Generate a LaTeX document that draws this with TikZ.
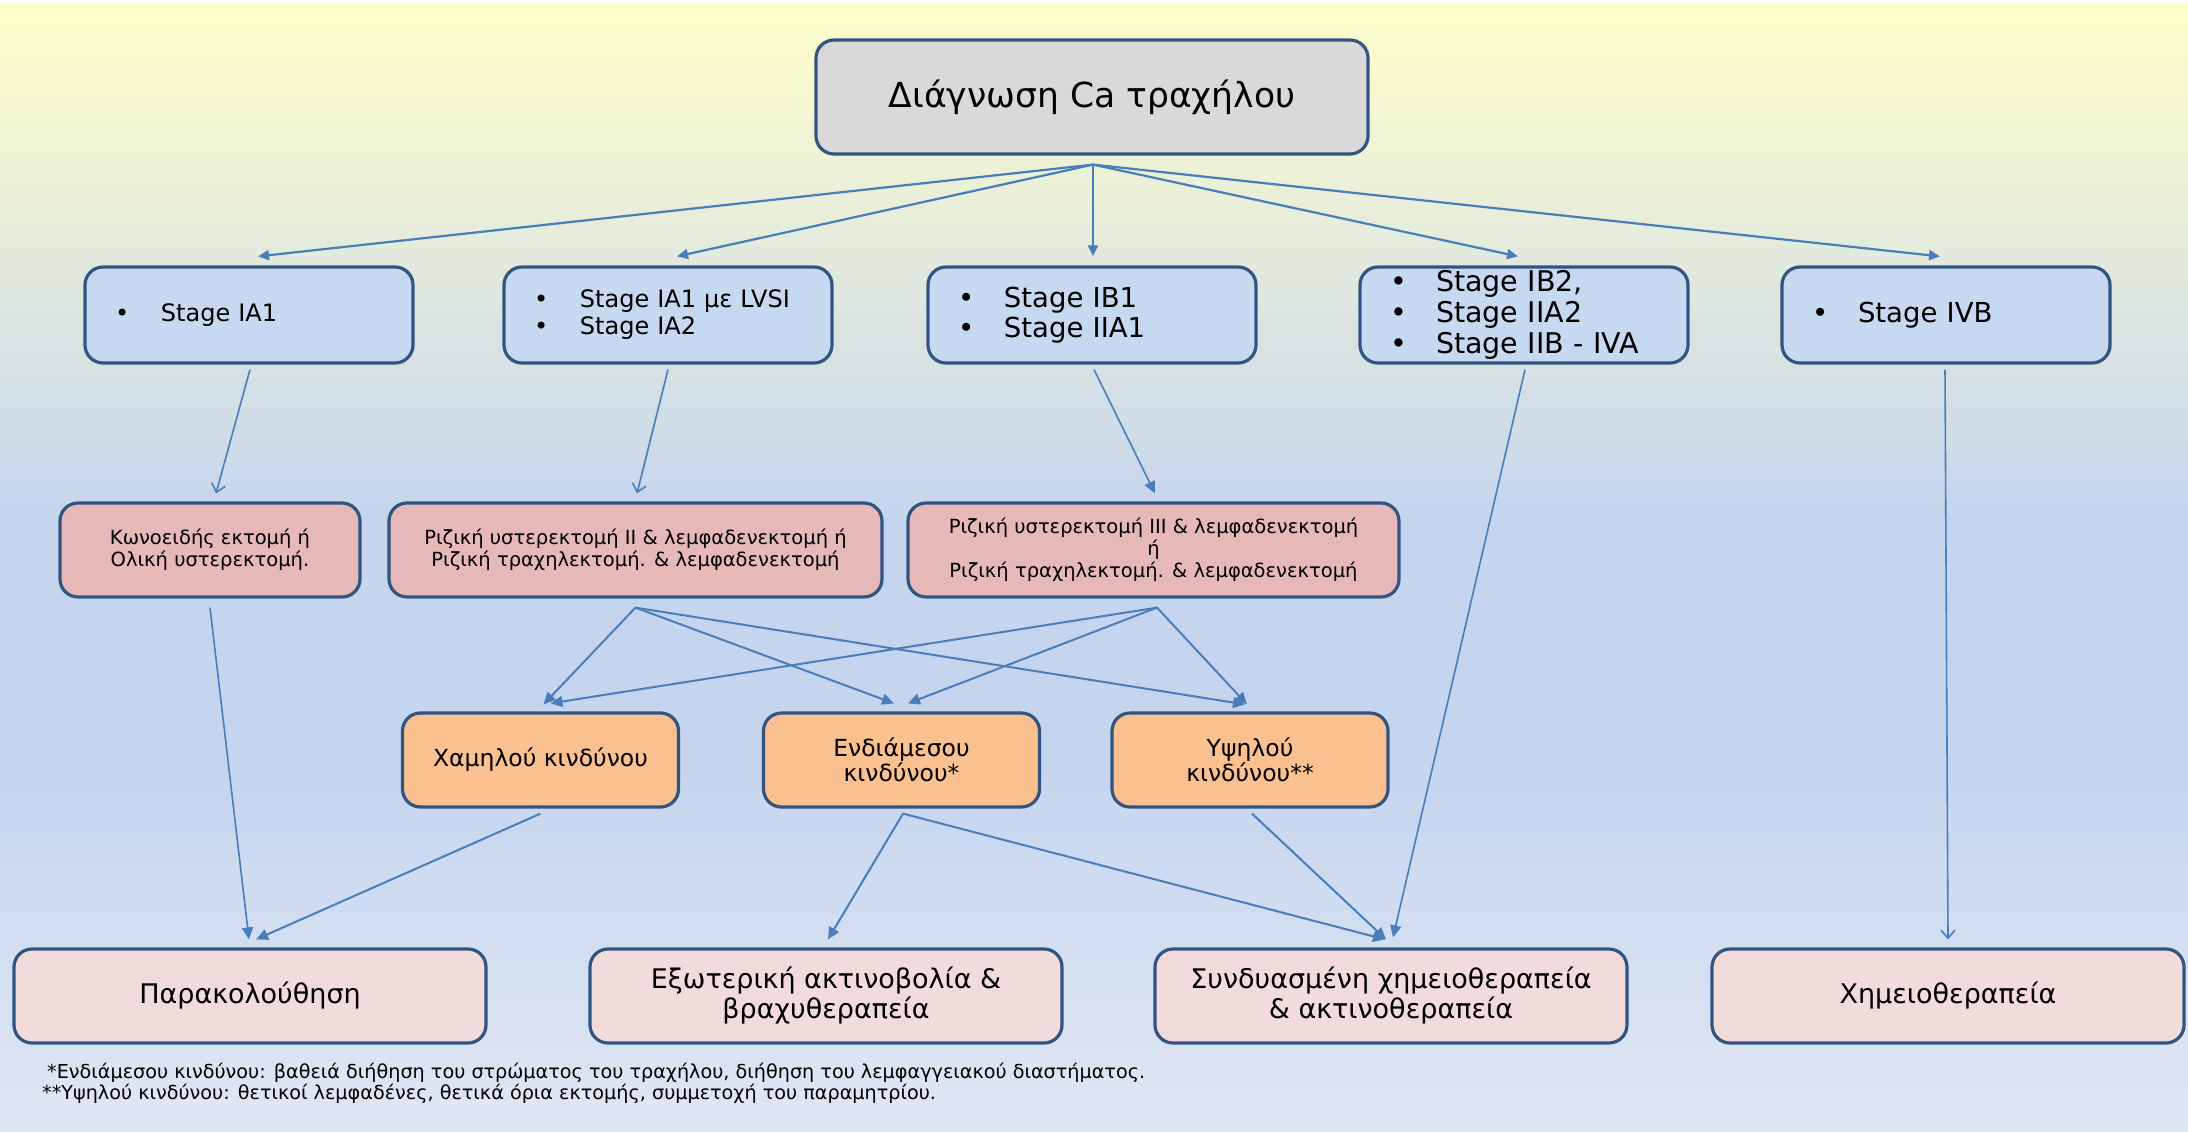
\documentclass[tikz,border=0pt]{standalone}
\usepackage{fontspec}
\setmainfont{DejaVu Sans}
\usetikzlibrary{arrows.meta,calc}

% palette
\definecolor{bgtop}{RGB}{255,255,204}
\definecolor{bgmid}{RGB}{197,213,238}
\definecolor{bgbot}{RGB}{225,231,245}
\definecolor{edge}{RGB}{50,84,128}
\definecolor{link}{RGB}{74,126,187}
\definecolor{grayfill}{RGB}{217,217,217}
\definecolor{stagefill}{RGB}{198,217,241}
\definecolor{surgfill}{RGB}{230,185,184}
\definecolor{riskfill}{RGB}{250,192,144}
\definecolor{therfill}{RGB}{242,220,219}

\newcommand{\fs}[2]{\fontsize{#1}{#2}\selectfont}
\newcommand{\bul}{\makebox[46pt][l]{•}}

\begin{document}
\begin{tikzpicture}[x=1pt,y=-1pt,
  box/.style={draw=edge, line width=3.2pt, rounded corners=18pt, inner sep=0pt, align=center},
  diagbox/.style={box, fill=grayfill, minimum width=552pt, minimum height=114pt, font=\fs{34.5}{40}},
  stagebox/.style={box, fill=stagefill, minimum width=328pt, minimum height=96pt,
                   align=left, text width=268pt, inner xsep=30pt},
  surgbox/.style={box, fill=surgfill, minimum height=94pt, font=\fs{19.5}{22}},
  riskbox/.style={box, fill=riskfill, minimum width=276pt, minimum height=94pt, font=\fs{23.5}{25}},
  therbox/.style={box, fill=therfill, minimum width=472pt, minimum height=94pt, font=\fs{27}{30}},
  fanarr/.style={draw=link, line width=2.2pt, -{Triangle[length=11pt,width=10pt]}},
  openarr/.style={draw=link, line width=1.6pt, -{Straight Barb[length=8pt,width=14pt]}},
  solidarr/.style={draw=link, line width=2pt, -{Triangle[length=12pt,width=11pt]}},
  thinarr/.style={draw=link, line width=1.6pt, -{Triangle[length=12pt,width=11pt]}},
  note/.style={anchor=west, inner sep=0pt, font=\fs{19.2}{21}}
]
\useasboundingbox (0,0) rectangle (2188,1132);

% background
\fill[white] (0,0) rectangle (2188,1132);
\shade[top color=bgtop, bottom color=bgmid] (0,5) rectangle (2188,521);
\fill[bgmid] (0,520) rectangle (2188,761);
\shade[top color=bgmid, bottom color=bgbot] (0,760) rectangle (2188,1132);

% diagnosis
\node[diagbox] (diag) at (1092,97) {Διάγνωση Ca τραχήλου};

% stages
\node[stagebox, font=\fs{24}{27}] (s1) at (249,315) {\bul Stage IA1};
\node[stagebox, font=\fs{24}{27}] (s2) at (668,315) {\bul Stage IA1 με LVSI\\\bul Stage IA2};
\node[stagebox, font=\fs{27.5}{30}] (s3) at (1092,315) {\bul Stage IB1\\\bul Stage IIA1};
\node[stagebox, font=\fs{28.5}{31}] (s4) at (1524,315) {\bul Stage IB2,\\\bul Stage IIA2\\\bul Stage IIB - IVA};
\node[stagebox, font=\fs{27.5}{30}] (s5) at (1946,315) {\bul Stage IVB};

% surgery
\node[surgbox, minimum width=300pt] (p1) at (210,550) {Κωνοειδής εκτομή ή\\Ολική υστερεκτομή.};
\node[surgbox, minimum width=493pt] (p2) at (635.5,550) {Ριζική υστερεκτομή ΙΙ \& λεμφαδενεκτομή ή\\Ριζική τραχηλεκτομή. \& λεμφαδενεκτομή};
\node[surgbox, minimum width=491pt] (p3) at (1153.5,550) {Ριζική υστερεκτομή ΙΙΙ \& λεμφαδενεκτομή\\ή\\Ριζική τραχηλεκτομή. \& λεμφαδενεκτομή};

% risk groups
\node[riskbox] (o1) at (540.5,760) {Χαμηλού κινδύνου};
\node[riskbox] (o2) at (901.5,760) {Ενδιάμεσου\\κινδύνου*};
\node[riskbox] (o3) at (1250,760) {Υψηλού\\κινδύνου**};

% therapies
\node[therbox] (b1) at (250,996) {Παρακολούθηση};
\node[therbox] (b2) at (826,996) {Εξωτερική ακτινοβολία \&\\βραχυθεραπεία};
\node[therbox] (b3) at (1391,996) {Συνδυασμένη χημειοθεραπεία\\\& ακτινοθεραπεία};
\node[therbox] (b4) at (1948,996) {Χημειοθεραπεία};

% footnotes
\node[note] (n1) at (47,1073) {*Ενδιάμεσου κινδύνου: βαθειά διήθηση του στρώματος του τραχήλου, διήθηση του λεμφαγγειακού διαστήματος.};
\node[note] (n2) at (42,1094) {**Υψηλού κινδύνου: θετικοί λεμφαδένες, θετικά όρια εκτομής, συμμετοχή του παραμητρίου.};

% diagnosis to stages
\coordinate (fan) at ($(diag.south)+(1,9)$);
\draw[fanarr] (fan) -- ($(s1.north)+(9,-9)$);
\draw[fanarr] (fan) -- ($(s2.north)+(9,-9)$);
\draw[fanarr] (fan) -- ($(s3.north)+(1,-9)$);
\draw[fanarr] (fan) -- ($(s4.north)+(-6,-9)$);
\draw[fanarr] (fan) -- ($(s5.north)+(-6,-9)$);

% stages to treatment
\draw[openarr] ($(s1.south)+(1,5)$) -- ($(p1.north)+(6,-8)$);
\draw[openarr] ($(s2.south)+(0,5)$) -- ($(p2.north)+(1.5,-8)$);
\draw[thinarr] ($(s3.south)+(2,5)$) -- ($(p3.north)+(1.5,-8)$);
\draw[thinarr] ($(s4.south)+(1,5)$) -- ($(b3.north)+(2,-10)$);
\draw[openarr] ($(s5.south)+(-1,5)$) -- ($(b4.north)+(0,-8)$);

% surgery to risk groups
\coordinate (p2out) at ($(p2.south)+(0,9)$);
\coordinate (p3out) at ($(p3.south)+(3.5,9)$);
\draw[solidarr] (p2out) -- ($(o1.north)+(3,-7)$);
\draw[solidarr] (p2out) -- ($(o2.north)+(-7.5,-8)$);
\draw[solidarr] (p2out) -- ($(o3.north)+(-5,-7)$);
\draw[solidarr] (p3out) -- ($(o1.north)+(10,-8)$);
\draw[solidarr] (p3out) -- ($(o2.north)+(6.5,-8)$);
\draw[solidarr] (p3out) -- ($(o3.north)+(-3,-7)$);

% to follow-up and adjuvant therapy
\draw[thinarr] ($(p1.south)+(0,9)$) -- ($(b1.north)+(-1,-8)$);
\draw[solidarr] ($(o1.south)+(0,5)$) -- ($(b1.north)+(6,-8)$);
\coordinate (o2out) at ($(o2.south)+(1.5,5)$);
\draw[solidarr] (o2out) -- ($(b2.north)+(2,-8)$);
\draw[solidarr] (o2out) -- ($(b3.north)+(-6,-8)$);
\draw[solidarr] ($(o3.south)+(2,5)$) -- ($(b3.north)+(-5,-8)$);
\end{tikzpicture}
\end{document}
